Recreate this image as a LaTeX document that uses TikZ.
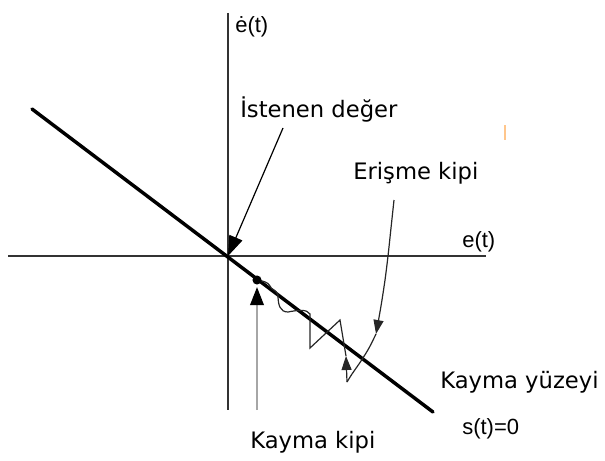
\documentclass[tikz,border=0pt]{standalone}
\usepackage{fontspec}
\setmainfont{DejaVu Sans}
\newfontfamily\axfont{Liberation Sans}
\usetikzlibrary{arrows.meta, positioning}

\begin{document}
\begin{tikzpicture}[x=0.75pt, y=-0.75pt]

% ---- Styles -----------------------------------------------------------------
\tikzset{
  axisline/.style={line width=1.4pt, draw=black!80},
  surface/.style={line width=2.6pt, line cap=round},
  traj/.style={line width=0.9pt, draw=black!85},
  tri/.style={-{Triangle[length=10.5pt, width=7.5pt]}},
  bigtri/.style={-{Triangle[length=15pt, width=10.5pt]}},
  lbl/.style={font=\fontsize{17}{20}\selectfont, anchor=base west, inner sep=0pt},
  axlbl/.style={font=\axfont\fontsize{16.5}{19}\selectfont, anchor=base west, inner sep=0pt},
}

\useasboundingbox (0,0) rectangle (605,460);

% ---- Axes -------------------------------------------------------------------
\coordinate (O)  at (228,256);
\coordinate (xL) at (8,256);
\coordinate (xR) at (486,256);
\coordinate (yT) at (228,13);
\coordinate (yB) at (228,410);
\draw[axisline] (xL) -- (xR);
\draw[axisline] (yT) -- (yB);

\node[axlbl] (edot) at (235,33) {ė(t)};
\node[axlbl] (eax)  at (462,247) {e(t)};

% ---- Sliding surface s(t)=0 -------------------------------------------------
\coordinate (sA) at (32,109);
\coordinate (sB) at (433,412);
\draw[surface] (sA) -- (sB);

% ---- Desired value ----------------------------------------------------------
\node[lbl] (goal) at (240,117) {İstenen değer};
\coordinate (goalA) at (283,128);
\draw[line width=0.9pt, bigtri] (goalA) -- (O);

% ---- Reaching mode trajectory -----------------------------------------------
\node[lbl] (reach) at (353,179) {Erişme kipi};
\coordinate (r0)  at (394,200);
\coordinate (r1)  at (376,334);
\coordinate (r2)  at (347,382);
\coordinate (r3)  at (346,356);
\coordinate (dot) at (257,280);
\draw[traj, tri] plot[smooth] coordinates
  {(r0) (391,228) (388,256) (385,280) (381,306) (r1)};
\draw[traj] plot[smooth] coordinates {(r1) (369,348) (361,361) (352,374) (r2)};
\draw[traj, tri] (r2) -- (r3);
\draw[traj] (r3) -- (340,320) -- (310,348) -- (310,314)
  .. controls (307,309) and (298,310) .. (288,312)
  .. controls (280,312) and (278,305) .. (278,295)
  .. controls (276,289) and (271,290) .. (270,286)
  .. controls (268,282) and (263,281) .. (dot);

% ---- Sliding mode -----------------------------------------------------------
\fill (dot) circle (3.4pt);
\coordinate (slideB) at (257,410);
\draw[line width=1.8pt, draw=black!35,
      -{Triangle[length=13.5pt, width=10pt, color=black]}]
  (slideB) -- (257,287);
\node[lbl] (slide) at (250,448) {Kayma kipi};

% ---- Surface label ----------------------------------------------------------
\node[lbl]   (surf) at (440,388) {Kayma yüzeyi};
\node[axlbl] (seq)  at (462,434) {s(t)=0};

% stray mark
\draw[orange!45, line width=1.2pt] (505,125) -- (505,140);

\end{tikzpicture}
\end{document}
